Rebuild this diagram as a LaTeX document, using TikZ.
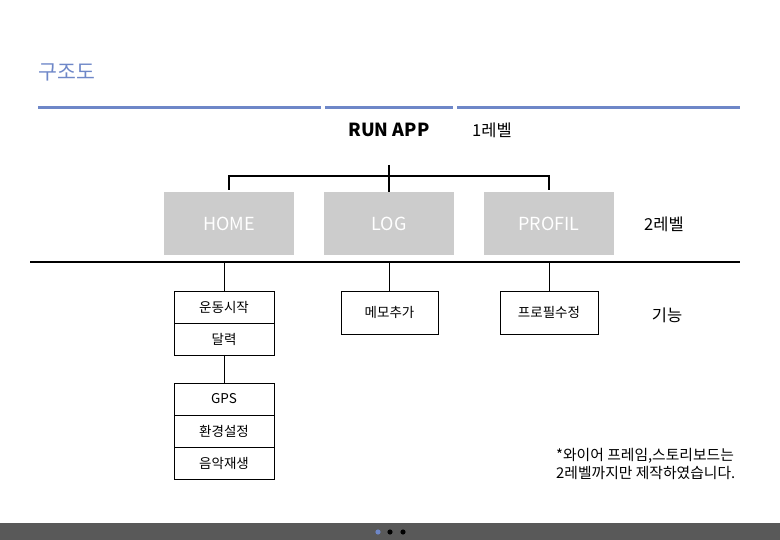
\documentclass[tikz,border=0pt]{standalone}
\usepackage{fontspec}
\setmainfont{Noto Sans CJK KR}
\usetikzlibrary{positioning}
\definecolor{titleblue}{HTML}{6E87C8}
\definecolor{boxgray}{HTML}{CCCCCC}
\definecolor{bargray}{HTML}{595959}

\tikzset{
  levelbox/.style={fill=boxgray, text=white, minimum width=130pt, minimum height=63pt, inner sep=0pt, font=\fontsize{18}{20}\selectfont},
  funcbox/.style={draw=black, line width=0.8pt, outer sep=0pt, minimum width=100pt, minimum height=32pt, inner sep=0pt, font=\fontsize{13.5}{15}\selectfont},
  levellabel/.style={font=\fontsize{16.5}{19}\selectfont},
  conn/.style={line width=1.8pt},
  thinconn/.style={line width=1pt}
}

\begin{document}
\begin{tikzpicture}[x=1pt, y=-1pt]
\useasboundingbox (0,0) rectangle (780,540);

% title and rule
\node[text=titleblue, font=\fontsize{20.5}{24}\selectfont, anchor=west] (title) at (35,72) {구조도};
\foreach \a/\b in {38/321, 325/453, 457/740}
  \draw[titleblue, line width=3pt] (\a,108) -- (\b,108);

% level 1
\node[font=\bfseries\fontsize{18}{20}\selectfont] (runapp) at (389,130) {RUN APP};
\node[levellabel] (lvlone) at (492,130) {1레벨};

% level 2
\node[levelbox] (home) at (229,223.5) {HOME};
\node[levelbox] (log) at (389,223.5) {LOG};
\node[levelbox] (profil) at (549,223.5) {PROFIL};
\node[levellabel] (lvltwo) at (664,224) {2레벨};

\coordinate (rtop) at (389,165);
\coordinate (bar) at (389,176);
\draw[conn] (rtop) -- (log.north) ;
\draw[conn, shorten <=2pt] (home.north) |- (bar) -| ([yshift=2pt]profil.north);

% divider
\coordinate (divl) at (30,262);
\coordinate (divr) at (740,262);
\draw[line width=2.2pt] (divl) -- (divr);

% functions
\node[funcbox] (start) at (224,307) {운동시작};
\node[funcbox, below=0pt of start] (cal) {달력};
\node[funcbox, minimum width=97pt, minimum height=43pt] (memo) at (389.5,312.5) {메모추가};
\node[funcbox, minimum width=98pt, minimum height=43pt] (prof) at (549,312.5) {프로필수정};
\node[levellabel] (func) at (667,315) {기능};

\node[funcbox] (gps) at (224,399) {GPS};
\node[funcbox, below=0pt of gps] (setting) {환경설정};
\node[funcbox, below=0pt of setting] (music) {음악재생};

\draw[thinconn] (start.north) -- (start.north |- divl);
\draw[thinconn] (memo.north) -- (memo.north |- divl);
\draw[thinconn] (prof.north) -- (prof.north |- divl);
\draw[thinconn] (cal.south) -- (gps.north);

% note
\node[anchor=north west, align=left, inner sep=0pt, font=\fontsize{14.8}{18.5}\selectfont] (note) at (556,448) {*와이어 프레임,스토리보드는\\2레벨까지만 제작하였습니다.};

% bottom bar
\fill[bargray] (0,523) rectangle (780,540);
\fill[titleblue] (378,532) circle (2.6);
\fill[black] (390,532) circle (2.6);
\fill[black] (403,532) circle (2.6);
\end{tikzpicture}
\end{document}
